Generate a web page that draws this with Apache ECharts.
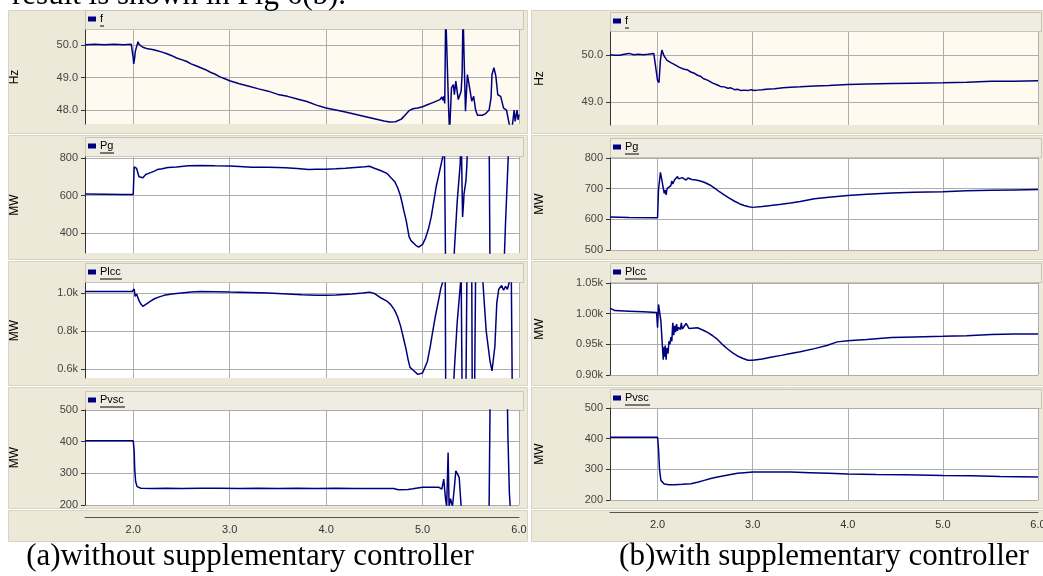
<!DOCTYPE html>
<html>
<head>
<meta charset="utf-8">
<script src="https://cdn.jsdelivr.net/npm/echarts@6/dist/echarts.min.js"></script>
<style>
html, body { margin: 0; padding: 0; background: #fff; }
#main { width: 1043px; height: 576px; }
</style>
</head>
<body>
<div id="main"></div>
<script>
// time axis ticks (s)
var xTicks = [2, 3, 4, 5, 6];

// (a) without supplementary controller  -- [t, value]
var fA = [[1.5,50.01],[1.6,50.02],[1.7,50.01],[1.8,50.02],[1.9,50.01],[1.98,50.02],
  [2.0,49.6],[2.005,49.42],[2.015,49.6],[2.02,49.78],[2.035,49.95],[2.05,50.1],[2.06,50.02],[2.08,49.96],
  [2.1,49.93],[2.12,49.95],[2.15,49.88],[2.2,49.86],[2.25,49.82],[2.3,49.78],[2.35,49.73],[2.4,49.67],
  [2.45,49.6],[2.5,49.55],[2.55,49.5],[2.6,49.42],[2.65,49.36],[2.7,49.3],[2.75,49.24],[2.8,49.16],
  [2.85,49.1],[2.9,49.02],[2.95,48.96],[3.0,48.9],[3.1,48.81],[3.2,48.73],[3.3,48.65],[3.4,48.58],
  [3.5,48.48],[3.6,48.42],[3.7,48.34],[3.8,48.26],[3.9,48.15],[4.0,48.06],[4.1,48.0],[4.2,47.94],
  [4.3,47.87],[4.4,47.8],[4.5,47.73],[4.6,47.66],[4.66,47.63],[4.72,47.64],[4.78,47.72],[4.82,47.85],
  [4.86,47.98],[4.9,48.04],[4.95,48.06],[5.0,48.1],[5.05,48.16],[5.1,48.22],[5.15,48.28],[5.18,48.32],
  [5.2,48.4],[5.21,48.3],[5.22,48.42],[5.23,48.2],[5.24,51],[5.26,51],[5.27,48.06],[5.28,47.3],
  [5.29,47.3],[5.30,48.68],[5.32,48.78],[5.33,48.47],[5.345,48.89],[5.37,48.32],[5.40,48.58],
  [5.41,49.09],[5.42,51],[5.425,51],[5.43,49.71],[5.445,47.96],[5.465,49.09],[5.48,48.83],[5.51,48.27],
  [5.53,48.42],[5.55,48.0],[5.57,47.84],[5.59,47.9],[5.62,47.84],[5.65,47.88],[5.67,47.84],[5.69,48.0],
  [5.71,48.37],[5.72,49.09],[5.74,49.3],[5.76,49.04],[5.78,48.47],[5.81,48.42],[5.84,48.06],[5.87,48.0],
  [5.89,47.96],[5.91,47.4],[5.93,47.5],[5.95,48.0],[5.96,47.65],[5.97,47.6],[5.98,48.0],[5.99,47.7],[6.0,47.86]];

var pgA = [[1.5,608],[1.7,607],[1.9,606],[2.0,606],[2.01,752],[2.035,744],[2.06,700],[2.08,690],[2.1,695],
  [2.13,712],[2.16,718],[2.18,726],[2.22,730],[2.25,738],[2.3,742],[2.36,749],[2.45,752],[2.57,758],
  [2.7,760],[2.85,758],[3.0,757],[3.1,754],[3.23,750],[3.4,750],[3.58,748],[3.7,744],[3.82,738],
  [3.9,740],[4.0,740],[4.1,742],[4.2,745],[4.3,749],[4.4,753],[4.45,756],[4.5,745],[4.57,732],
  [4.63,718],[4.67,696],[4.71,675],[4.74,644],[4.77,600],[4.79,556],[4.81,510],[4.83,468],[4.86,381],
  [4.88,360],[4.9,354],[4.93,335],[4.96,325],[4.98,328],[5.0,340],[5.03,372],[5.06,420],[5.09,486],
  [5.12,580],[5.14,644],[5.17,714],[5.2,784],[5.215,820],[5.225,950],[5.235,950],[5.24,150],[5.32,150],
  [5.33,310],[5.36,574],[5.39,767],[5.40,950],[5.405,950],[5.415,486],[5.425,560],[5.43,609],[5.45,679],
  [5.46,767],[5.47,950],[5.69,950],[5.70,150],[5.84,150],[5.86,450],[5.88,700],[5.9,950],[6.0,950]];

var plccA = [[1.5,1008],[1.7,1008],[1.9,1008],[1.99,1008],[2.0,1012],[2.01,1021],[2.02,982],[2.035,995],
  [2.06,960],[2.08,942],[2.1,930],[2.12,940],[2.15,947],[2.18,958],[2.22,970],[2.27,980],[2.32,988],
  [2.4,995],[2.5,1000],[2.6,1005],[2.7,1008],[2.85,1007],[3.0,1005],[3.2,1003],[3.4,1000],[3.6,995],
  [3.75,991],[3.9,989],[4.0,988],[4.1,990],[4.27,995],[4.38,1000],[4.45,1005],[4.5,998],[4.57,974],
  [4.63,958],[4.67,939],[4.71,910],[4.74,877],[4.77,830],[4.79,789],[4.81,745],[4.83,702],[4.85,650],
  [4.87,609],[4.91,591],[4.95,572],[4.97,567],[5.0,579],[5.05,640],[5.08,720],[5.1,781],[5.13,870],
  [5.16,947],[5.19,1026],[5.21,1060],[5.235,1100],[5.24,500],[5.32,500],[5.33,600],[5.36,850],
  [5.395,1060],[5.40,1100],[5.41,500],[5.45,500],[5.46,1100],[5.51,1100],[5.515,500],[5.54,500],
  [5.55,1100],[5.62,1100],[5.66,800],[5.70,640],[5.72,590],[5.73,600],[5.75,720],[5.77,950],[5.79,1020],
  [5.82,1040],[5.84,1015],[5.86,1035],[5.88,1020],[5.9,1060],[5.92,1100],[5.93,500],[6.0,500]];

var pvscA = [[1.5,403],[1.8,403],[2.0,403],[2.01,370],[2.015,316],[2.025,274],[2.04,258],[2.08,253],
  [2.2,252],[2.35,253],[2.5,252],[2.7,253],[2.9,253],[3.1,252],[3.3,253],[3.5,252],[3.7,253],[3.9,252],
  [4.1,253],[4.3,252],[4.5,252],[4.7,252],[4.75,248],[4.85,249],[4.9,251],[5.0,256],[5.1,256],[5.17,256],
  [5.2,250],[5.22,282],[5.23,246],[5.24,215],[5.25,195],[5.265,366],[5.275,195],[5.29,220],[5.31,195],
  [5.33,256],[5.345,308],[5.36,310],[5.38,287],[5.40,195],[5.69,190],[5.70,520],[5.88,520],[5.885,418],
  [5.895,418],[5.90,240],[5.91,190],[6.0,190]];

// (b) with supplementary controller
var fB = [[1.5,50.01],[1.55,50.0],[1.6,50.0],[1.65,50.02],[1.7,50.04],[1.75,50.01],[1.8,50.02],[1.85,50.01],
  [1.9,50.02],[1.96,50.04],[1.98,50.07],[2.0,49.46],[2.015,49.41],[2.03,49.89],[2.045,50.11],[2.07,49.98],
  [2.1,49.89],[2.12,49.9],[2.14,49.84],[2.16,49.85],[2.18,49.8],[2.2,49.8],[2.23,49.74],[2.25,49.75],
  [2.28,49.7],[2.31,49.69],[2.35,49.64],[2.38,49.62],[2.42,49.57],[2.45,49.55],[2.48,49.5],[2.5,49.49],
  [2.53,49.46],[2.55,49.42],[2.58,49.4],[2.63,49.36],[2.66,49.33],[2.7,49.32],[2.74,49.29],[2.77,49.3],
  [2.81,49.26],[2.84,49.27],[2.88,49.24],[2.91,49.25],[2.95,49.24],[2.98,49.26],[3.02,49.24],[3.05,49.25],
  [3.1,49.26],[3.14,49.27],[3.23,49.28],[3.32,49.3],[3.4,49.31],[3.5,49.32],[3.65,49.34],[3.8,49.35],
  [4.0,49.37],[4.2,49.38],[4.46,49.39],[4.7,49.4],[5.0,49.41],[5.25,49.42],[5.51,49.44],[5.75,49.44],[6.0,49.45]];

var pgB = [[1.5,608],[1.7,606],[2.0,605],[2.01,697],[2.03,753],[2.045,729],[2.06,702],[2.07,685],[2.08,695],
  [2.09,680],[2.1,700],[2.11,697],[2.12,705],[2.14,710],[2.15,725],[2.16,715],[2.18,729],[2.2,735],
  [2.21,740],[2.22,732],[2.24,729],[2.26,736],[2.28,733],[2.3,728],[2.32,735],[2.36,730],[2.39,729],
  [2.44,726],[2.49,721],[2.55,712],[2.6,702],[2.65,690],[2.7,680],[2.75,670],[2.81,659],[2.86,651],
  [2.91,645],[2.96,641],[3.0,639],[3.1,642],[3.19,645],[3.3,649],[3.4,653],[3.5,658],[3.65,667],[3.8,672],
  [4.0,678],[4.2,682],[4.46,686],[4.7,688],[5.0,690],[5.25,693],[5.51,695],[5.75,696],[6.0,697]];

var plccB = [[1.5,1009],[1.55,1005],[1.7,1004],[1.85,1003],[1.99,1002],[2.0,977],[2.01,1015],[2.02,1018],
  [2.035,988],[2.05,950],[2.06,925],[2.065,945],[2.07,939],[2.075,930],[2.08,948],[2.09,925],[2.095,940],
  [2.1,944],[2.11,935],[2.12,955],[2.13,950],[2.14,962],[2.15,955],[2.16,985],[2.17,965],[2.18,980],
  [2.19,970],[2.2,983],[2.21,972],[2.22,978],[2.24,974],[2.25,985],[2.26,975],[2.28,977],[2.3,984],
  [2.32,985],[2.33,976],[2.35,978],[2.42,977],[2.48,973],[2.53,969],[2.58,964],[2.63,958],[2.68,950],
  [2.74,942],[2.79,936],[2.84,931],[2.9,927],[2.95,924],[3.0,924],[3.1,926],[3.19,929],[3.3,932],
  [3.4,935],[3.5,938],[3.65,943],[3.78,948],[3.89,954],[4.0,956],[4.2,958],[4.46,961],[4.7,962],
  [5.0,963],[5.25,964],[5.51,966],[5.75,967],[6.0,967]];

var pvscB = [[1.5,405],[1.8,405],[2.0,405],[2.01,367],[2.02,302],[2.035,264],[2.07,252],[2.12,250],
  [2.18,250],[2.26,251],[2.35,253],[2.42,258],[2.49,264],[2.56,270],[2.63,275],[2.7,279],[2.77,283],
  [2.84,287],[2.91,289],[3.0,291],[3.2,291],[3.4,291],[3.6,289],[3.8,287],[4.0,285],[4.3,283],[4.6,282],
  [5.0,280],[5.3,279],[5.6,277],[6.0,275]];

// y tick labels
var ticksFA = [48, 49, 50];
var ticksPgA = [400, 600, 800];
var ticksPlccA = [600, 800, 1000];
var ticksPvsc = [200, 300, 400, 500];
var ticksFB = [49, 50];
var ticksPgB = [500, 600, 700, 800];
var ticksPlccB = [900, 950, 1000, 1050];

var captions = ['(a)without supplementary controller', '(b)with supplementary controller'];

function fmt1(v) { return v.toFixed(1); }
function fmt0(v) { return String(Math.round(v)); }
function fmtK1(v) { return (v / 1000).toFixed(1) + 'k'; }
function fmtK2(v) { return (v / 1000).toFixed(2) + 'k'; }

var cols = [
  { plotLeft: 85, plotWidth: 434, panelX: 8, panelW: 519, headW: 438, unitX: 15, capX: 250 },
  { plotLeft: 610, plotWidth: 428, panelX: 531, panelW: 514, headW: 431, unitX: 540, capX: 824 }
];

var panels = [
  { col: 0, top: 30, height: 94, head: 10, box: [10, 133], name: 'f', nameW: 4, unit: 'Hz', data: fA, min: 47.57, max: 50.46, ticks: ticksFA, fmt: fmt1, bg: '#FFFAF0' },
  { col: 0, top: 157, height: 96, head: 137, box: [135, 259], name: 'Pg', nameW: 14, unit: 'MW', data: pgA, min: 294, max: 805, ticks: ticksPgA, fmt: fmt0, bg: '#FFFFFF' },
  { col: 0, top: 283, height: 95, head: 263, box: [261, 385], name: 'Plcc', nameW: 22, unit: 'MW', data: plccA, min: 553, max: 1053, ticks: ticksPlccA, fmt: fmtK1, bg: '#FFFFFF' },
  { col: 0, top: 410, height: 95, head: 391, box: [387, 508], name: 'Pvsc', nameW: 25, unit: 'MW', data: pvscA, min: 200, max: 500, ticks: ticksPvsc, fmt: fmt0, bg: '#FFFFFF', bottom: true },
  { col: 1, top: 32, height: 93, head: 12, box: [10, 133], name: 'f', nameW: 4, unit: 'Hz', data: fB, min: 48.5, max: 50.5, ticks: ticksFB, fmt: fmt1, bg: '#FFFAF0' },
  { col: 1, top: 158, height: 92, head: 138, box: [135, 259], name: 'Pg', nameW: 14, unit: 'MW', data: pgB, min: 500, max: 800, ticks: ticksPgB, fmt: fmt0, bg: '#FFFFFF' },
  { col: 1, top: 283, height: 92, head: 263, box: [261, 385], name: 'Plcc', nameW: 22, unit: 'MW', data: plccB, min: 900, max: 1050, ticks: ticksPlccB, fmt: fmtK2, bg: '#FFFFFF' },
  { col: 1, top: 408, height: 92, head: 389, box: [387, 508], name: 'Pvsc', nameW: 25, unit: 'MW', data: pvscB, min: 200, max: 500, ticks: ticksPvsc, fmt: fmt0, bg: '#FFFFFF', bottom: true }
];

var FONT = '"Liberation Sans", Arial, sans-serif';
var grids = [], xAxes = [], yAxes = [], series = [], graphics = [];

// page text above and captions below
graphics.push({ type: 'text', x: 12, y: -4, silent: true, z: 100,
  style: { text: 'result is shown in Fig 6(b).', font: '31px "Liberation Serif", serif', fill: '#000', align: 'left', verticalAlign: 'middle' } });

cols.forEach(function (c, ci) {
  // axis strip
  graphics.push({ type: 'rect', z: -10, shape: { x: c.panelX + 0.5, y: 510.5, width: c.panelW, height: 31 },
    style: { fill: '#ECE9D8', stroke: '#D8D4C4', lineWidth: 1 } });
  graphics.push({ type: 'text', x: c.capX, y: 557, z: 100, silent: true,
    style: { text: captions[ci], font: '31px "Liberation Serif", serif', fill: '#000', align: 'center', verticalAlign: 'middle' } });
});

panels.forEach(function (p, i) {
  var c = cols[p.col];
  var headMid = p.head + 9.5;

  graphics.push({ type: 'rect', z: -10, shape: { x: c.panelX + 0.5, y: p.box[0] + 0.5, width: c.panelW, height: p.box[1] - p.box[0] },
    style: { fill: '#ECE9D8', stroke: '#D8D4C4', lineWidth: 1 } });
  graphics.push({ type: 'rect', z: -5, shape: { x: c.plotLeft + 0.5, y: p.head + 0.5, width: c.headW, height: 19 },
    style: { fill: '#EFEDE2', stroke: '#C9C5B5', lineWidth: 1 } });
  graphics.push({ type: 'rect', z: 5, shape: { x: c.plotLeft + 3, y: headMid - 3, width: 8, height: 5 },
    style: { fill: '#000080' } });
  graphics.push({ type: 'text', z: 5, x: c.plotLeft + 15, y: headMid - 1,
    style: { text: p.name, font: '11px ' + FONT, fill: '#000', align: 'left', verticalAlign: 'middle' } });
  graphics.push({ type: 'line', z: 5, shape: { x1: c.plotLeft + 15, y1: headMid + 6.5, x2: c.plotLeft + 15 + p.nameW, y2: headMid + 6.5 },
    style: { stroke: '#000', lineWidth: 1 } });
  graphics.push({ type: 'text', z: 5, x: c.unitX, y: p.top + p.height / 2, rotation: Math.PI / 2,
    style: { text: p.unit, font: '12px ' + FONT, fill: '#000', align: 'center', verticalAlign: 'middle' } });

  grids.push({ left: c.plotLeft, top: p.top, width: c.plotWidth, height: p.height, show: true,
    backgroundColor: p.bg, borderWidth: 0, outerBoundsMode: 'none', containLabel: false });

  xAxes.push({
    gridIndex: i, type: 'value', min: 1.5, max: 6, position: 'bottom',
    offset: p.bottom ? 12 : 0,
    axisLine: { show: !!p.bottom, onZero: false, lineStyle: { color: '#555', width: 1 } },
    axisTick: { show: false, customValues: xTicks },
    axisLabel: { show: !!p.bottom, customValues: xTicks, formatter: fmt1, margin: 7,
      color: '#333', fontSize: 11, fontFamily: FONT },
    splitLine: { show: true, lineStyle: { color: '#ADADAD', width: 1 } }
  });

  yAxes.push({
    gridIndex: i, type: 'value', min: p.min, max: p.max,
    axisLine: { show: true, onZero: false, lineStyle: { color: '#333', width: 1 } },
    axisTick: { show: true, length: 4, customValues: p.ticks, lineStyle: { color: '#333' } },
    axisLabel: { customValues: p.ticks, formatter: p.fmt, margin: 7, color: '#444', fontSize: 11, fontFamily: FONT },
    splitLine: { show: true, lineStyle: { color: '#ADADAD', width: 1 } }
  });

  series.push({
    type: 'line', xAxisIndex: i, yAxisIndex: i, data: p.data,
    showSymbol: false, symbol: 'none', clip: true, silent: true,
    lineStyle: { color: '#00007F', width: 1.5 }
  });
});

var myChart = echarts.init(document.getElementById('main'));
myChart.setOption({
  animation: false,
  backgroundColor: '#FFFFFF',
  grid: grids,
  xAxis: xAxes,
  yAxis: yAxes,
  series: series,
  graphic: { elements: graphics }
});
window.addEventListener('resize', function () { myChart.resize(); });
</script>
</body>
</html>
